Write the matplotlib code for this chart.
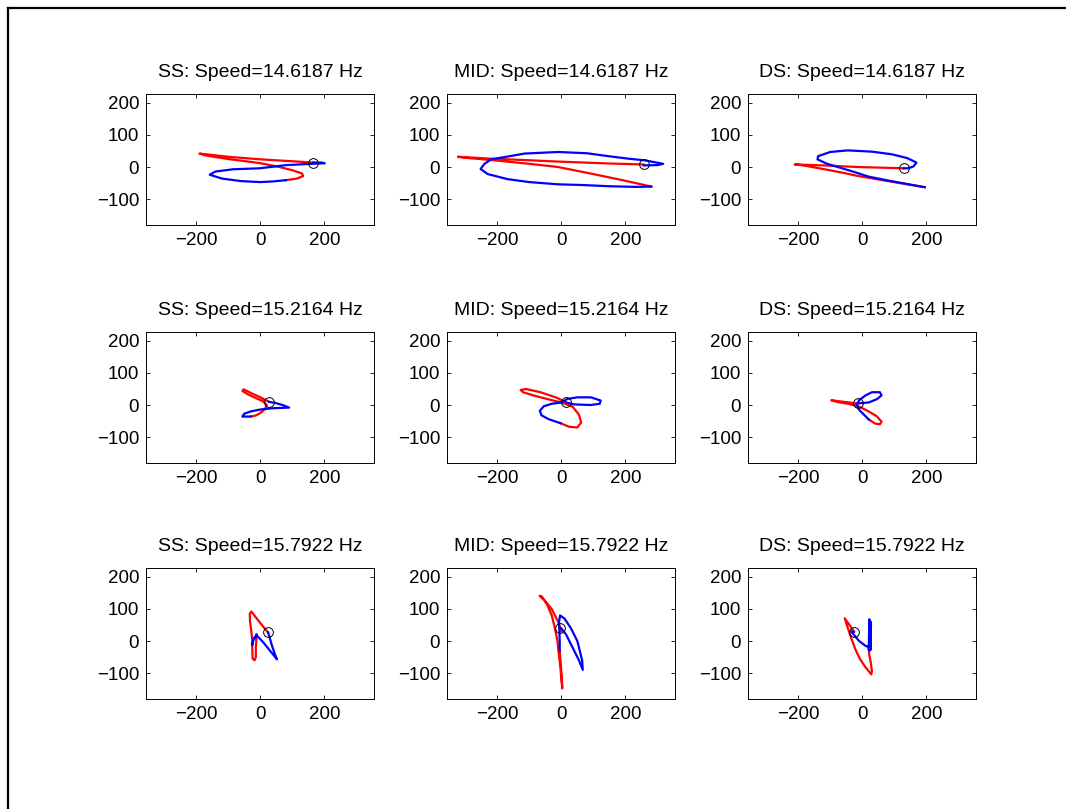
import matplotlib
matplotlib.use("Agg")
import matplotlib.pyplot as plt
from matplotlib.lines import Line2D
import numpy as np

plt.rcParams['font.family'] = ['Liberation Sans', 'DejaVu Sans']

speeds = ["14.6187", "15.2164", "15.7922"]
stations = ["SS", "MID", "DS"]

# Orbit traces: first half of each cycle (red) and second half (blue), (x, y) pairs.
# Row 1: 14.6187 Hz
ss1_red = [(165, 14), (100, 18), (0, 24), (-100, 32), (-190, 42), (-170, 36), (-100, 25),
           (0, 12), (60, 0), (100, -10), (130, -20), (134, -28), (115, -36), (80, -41)]
ss1_blue = [(80, -41), (40, -45), (0, -47), (-60, -44), (-120, -36), (-158, -24), (-140, -14),
            (-85, -7), (-2, -4), (81, 6), (140, 9), (201, 12), (190, 14), (165, 14)]
mid1_red = [(257, 8), (150, 11), (-10, 17), (-120, 22), (-219, 26), (-323, 32), (-300, 29),
            (-200, 20), (-100, 10), (-10, 0), (100, -22), (200, -43), (281, -61)]
mid1_blue = [(281, -61), (234, -62), (150, -60), (60, -56), (-10, -54), (-100, -47),
             (-167, -38), (-230, -22), (-252, -6), (-240, 10), (-219, 24), (-160, 34),
             (-115, 42), (-10, 47), (80, 43), (146, 34), (210, 26), (260, 21), (318, 10),
             (300, 6), (257, 5)]
ds1_red = [(129, -4), (60, -2), (-14, 0), (-120, 5), (-211, 8), (-190, 6), (-118, -7),
           (-60, -18), (-14, -28), (80, -44), (140, -54), (195, -63)]
ds1_blue = [(195, -63), (140, -53), (80, -42), (20, -30), (-30, -14), (-70, -2), (-110, 10),
            (-140, 24), (-138, 34), (-100, 47), (-45, 52), (30, 48), (91, 40), (140, 28),
            (169, 14), (160, 2), (143, -4), (129, -4)]
# Row 2: 15.2164 Hz
ss2_red = [(27, 10), (0, 24), (-30, 38), (-52, 49), (-56, 44), (-40, 34), (-15, 22), (8, 12),
           (20, 0), (15, -12), (0, -25), (-15, -33), (-30, -36)]
ss2_blue = [(-30, -36), (-56, -36), (-50, -27), (-30, -20), (0, -14), (40, -10), (90, -8),
            (70, 0), (45, 7), (27, 10)]
mid2_red = [(14, 8), (-12, 22), (-65, 40), (-110, 50), (-127, 47), (-120, 40), (-80, 28),
            (-33, 16), (0, 8), (35, -5), (55, -30), (62, -55), (50, -70), (25, -68), (-2, -57)]
mid2_blue = [(-2, -57), (-40, -44), (-62, -32), (-67, -18), (-55, -4), (-30, 4), (0, 8),
             (19, 19), (50, 24), (92, 24), (123, 14), (120, 4), (92, 0), (40, 2), (14, 8)]
ds2_red = [(-14, 5), (-50, 9), (-97, 15), (-80, 10), (-40, 3), (-10, -5), (20, -20),
           (45, -35), (60, -52), (55, -60), (40, -58), (20, -45)]
ds2_blue = [(20, -45), (5, -30), (-10, -15), (-18, 0), (-10, 15), (10, 30), (30, 40),
            (55, 40), (60, 30), (45, 18), (20, 8), (-14, 5)]
# Row 3: 15.7922 Hz
ss3_red = [(24, 27), (5, 50), (-15, 75), (-28, 92), (-33, 85), (-32, 60), (-28, 30),
           (-25, 0), (-25, -30), (-24, -55), (-18, -60), (-14, -50), (-14, -20), (-12, 10),
           (-12, 20)]
ss3_blue = [(-12, 20), (-22, 2), (-26, -14), (-22, 6), (-10, 16), (10, -5), (30, -30),
            (52, -57), (45, -40), (35, -10), (28, 15), (24, 27)]
mid3_red = [(0, 30), (-10, 60), (-30, 100), (-55, 130), (-68, 141), (-62, 140), (-45, 115),
            (-30, 80), (-20, 40), (-12, 0), (-8, -40), (-3, -80), (0, -120), (3, -148),
            (2, -120), (-2, -70), (-5, -30)]
mid3_blue = [(-5, -30), (-5, 0), (-6, 30), (-7, 60), (-4, 80), (10, 70), (30, 40), (50, 0),
             (65, -60), (67, -90), (55, -60), (35, -20), (15, 20), (0, 40), (-4, 40)]
ds3_red = [(-26, 29), (-40, 50), (-55, 71), (-45, 40), (-35, 10), (-22, -25), (-8, -55),
           (10, -82), (28, -104), (30, -95), (27, -70), (22, -45), (20, -25)]
ds3_blue = [(20, -25), (22, 68), (23, -30), (25, 62), (26, -28), (27, 55), (24, -20),
            (10, -15), (-10, 0), (-25, 18), (-35, 30), (-26, 29)]

# Probe start positions (circles)
start_points = [[(165, 14), (257, 8), (129, -4)],
                [(27, 10), (14, 8), (-14, 5)],
                [(24, 27), (-4, 40), (-26, 29)]]

red_traces = [[ss1_red, mid1_red, ds1_red],
              [ss2_red, mid2_red, ds2_red],
              [ss3_red, mid3_red, ds3_red]]
blue_traces = [[ss1_blue, mid1_blue, ds1_blue],
               [ss2_blue, mid2_blue, ds2_blue],
               [ss3_blue, mid3_blue, ds3_blue]]

x_ticks = [-200, 0, 200]
y_ticks = [-100, 0, 100, 200]

W, H = 1066, 809
fig = plt.figure(figsize=(W / 100, H / 100), dpi=100)
fig.patch.set_facecolor('white')

col_left = [146, 447, 748]
row_top = [94, 332, 568]
ax_w, ax_h = 228, 131

for r in range(3):
    for c in range(3):
        ax = fig.add_axes([col_left[c] / W, 1 - (row_top[r] + ax_h) / H, ax_w / W, ax_h / H])
        red = np.array(red_traces[r][c])
        blue = np.array(blue_traces[r][c])
        ax.plot(red[:, 0], red[:, 1], color='red', lw=1.6, solid_joinstyle='round')
        ax.plot(blue[:, 0], blue[:, 1], color='blue', lw=1.6, solid_joinstyle='round')
        sx, sy = start_points[r][c]
        ax.plot([sx], [sy], 'o', mfc='none', mec='black', ms=7, mew=0.7)
        ax.set_xlim(-357, 355)
        ax.set_ylim(-181, 228)
        ax.set_xticks(x_ticks)
        ax.set_yticks(y_ticks)
        ax.tick_params(direction='in', length=3, width=0.6, labelsize=13.5, pad=5,
                       top=True, right=True, labeltop=False, labelright=False)
        for s in ax.spines.values():
            s.set_linewidth(0.7)
        ax.set_title(f"{stations[c]}: Speed={speeds[r]} Hz", fontsize=14, pad=12)

# Frame lines along the top and left edges of the figure
fig.add_artist(Line2D([7.5 / W, 7.5 / W], [0, 1 - 8 / H], color='black', lw=1.6,
                      transform=fig.transFigure))
fig.add_artist(Line2D([7.5 / W, 1], [1 - 8 / H, 1 - 8 / H], color='black', lw=1.6,
                      transform=fig.transFigure))

fig.savefig('out.png', dpi=100, facecolor='white')
